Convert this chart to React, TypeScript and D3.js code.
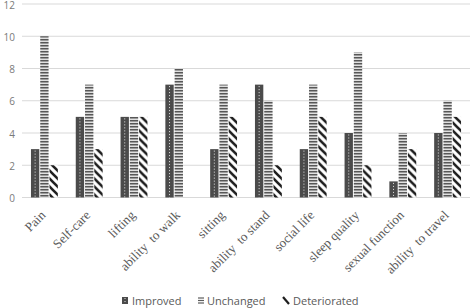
import React from "react";
import * as d3 from "d3";

const categories = [
  "Pain",
  "Self-care",
  "lifting",
  "ability  to walk",
  "sitting",
  "ability  to stand",
  "social life",
  "sleep quality",
  "sexual function",
  "ability  to travel",
];
const seriesNames = ["Improved", "Unchanged", "Deteriorated"];
const improved = [3, 5, 5, 7, 3, 7, 3, 4, 1, 4];
const unchanged = [10, 7, 5, 8, 7, 6, 7, 9, 4, 6];
const deteriorated = [2, 3, 5, 0, 5, 2, 5, 2, 3, 5];
const yTicks = [0, 2, 4, 6, 8, 10, 12];

const W = 472;
const H = 308;
const left = 22;
const right = 470;
const top = 4;
const bottom = 197.5;

const fills: Record<string, string> = {
  Improved: "#4b4b4b",
  Unchanged: "url(#patU)",
  Deteriorated: "url(#patD)",
};

export default function App() {
  const values = [improved, unchanged, deteriorated];
  const x0 = d3
    .scaleBand<string>()
    .domain(categories)
    .range([left, right])
    .paddingInner(0.4)
    .paddingOuter(0.2);
  const x1 = d3
    .scaleBand<string>()
    .domain(seriesNames)
    .range([0, x0.bandwidth()])
    .paddingInner(0.1)
    .paddingOuter(0);
  const y = d3.scaleLinear().domain([0, 12]).range([bottom, top]);

  const legendItems = [
    { name: "Improved", ix: 122, tx: 132 },
    { name: "Unchanged", ix: 198, tx: 207 },
    { name: "Deteriorated", ix: 283, tx: 293 },
  ];

  return (
    <svg
      width={W}
      height={H}
      style={{ position: "absolute", left: 0, top: 0, background: "#fff" }}
    >
      <defs>
        <pattern id="patU" patternUnits="userSpaceOnUse" width={4} height={3}>
          <rect x={0} y={0} width={4} height={3} fill="#e0e0e0" />
          <rect x={0} y={0} width={4} height={1.5} fill="#575757" />
        </pattern>
        <pattern id="patD" patternUnits="userSpaceOnUse" width={8} height={8}>
          <rect x={0} y={0} width={8} height={8} fill="#fff" />
          <path
            d="M-2,-2 L10,10 M-2,6 L2,10 M6,-2 L10,2"
            stroke="#1e1e1e"
            strokeWidth={2.6}
          />
        </pattern>
      </defs>

      {yTicks.map((t) => (
        <g key={t}>
          <line
            x1={left}
            x2={right}
            y1={y(t)}
            y2={y(t)}
            stroke="#d9d9d9"
            strokeWidth={1}
          />
          <text
            x={15}
            y={y(t) + 1.2}
            dy="0.35em"
            textAnchor="end"
            fontFamily="'Open Sans', sans-serif"
            fontSize={10}
            fill="#7a7a7a"
          >
            {t}
          </text>
        </g>
      ))}

      {categories.map((c, ci) => (
        <g key={c} transform={`translate(${x0(c)},0)`}>
          {seriesNames.map((s, si) => {
            const v = values[si][ci];
            if (v <= 0) return null;
            const bx = x1(s)!;
            const bw = x1.bandwidth();
            const by = y(v);
            const bh = y(0) - y(v);
            return (
              <g key={s}>
                <rect x={bx} y={by} width={bw} height={bh} fill={fills[s]} />
                {s === "Improved" && (
                  <line
                    x1={bx + bw / 2}
                    x2={bx + bw / 2}
                    y1={by + 1.5}
                    y2={y(0)}
                    stroke="#e6e6e6"
                    strokeWidth={1}
                    strokeDasharray="1,2"
                  />
                )}
              </g>
            );
          })}
        </g>
      ))}

      {categories.map((c) => {
        const cx = x0(c)! + x0.bandwidth() / 2 + 2;
        return (
          <text
            key={c}
            transform={`translate(${cx},216) rotate(-45)`}
            textAnchor="end"
            fontFamily="'Liberation Serif', 'Times New Roman', serif"
            fontSize={13}
            fill="#595959"
            style={{ whiteSpace: "pre" }}
          >
            {c}
          </text>
        );
      })}

      {legendItems.map((it) => (
        <g key={it.name}>
          {it.name === "Improved" && (
            <g>
              <rect x={it.ix} y={297} width={6} height={7} fill="#4b4b4b" />
              <line
                x1={it.ix + 3}
                x2={it.ix + 3}
                y1={298}
                y2={304}
                stroke="#e6e6e6"
                strokeDasharray="1,2"
              />
            </g>
          )}
          {it.name === "Unchanged" &&
            [0, 1, 2].map((k) => (
              <line
                key={k}
                x1={it.ix}
                x2={it.ix + 6}
                y1={298 + k * 2.5}
                y2={298 + k * 2.5}
                stroke="#5c5c5c"
                strokeWidth={1.2}
              />
            ))}
          {it.name === "Deteriorated" && (
            <line
              x1={it.ix}
              y1={297}
              x2={it.ix + 6}
              y2={304}
              stroke="#1e1e1e"
              strokeWidth={2.2}
            />
          )}
          <text
            x={it.tx}
            y={301}
            dy="0.35em"
            fontFamily="'Open Sans', sans-serif"
            fontSize={11}
            fill="#595959"
          >
            {it.name}
          </text>
        </g>
      ))}
    </svg>
  );
}
